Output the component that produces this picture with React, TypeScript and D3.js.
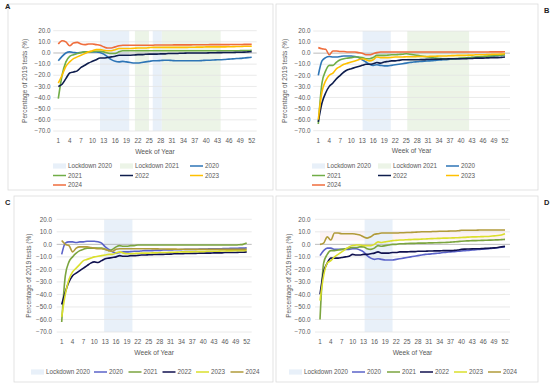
import React from "react";
import * as d3 from "d3";

// week-of-year axis and value axis
const xTicks = d3.range(1, 53, 3);
const yTicks = [20, 10, 0, -10, -20, -30, -40, -50, -60, -70];
const years = ["2020", "2021", "2022", "2023", "2024"];

// Panel A
const a2020 = [-7, -3, 0, 1, 0.5, 0, 0.5, 1, 1, 1, 1, 0.5, -1, -3.5, -6, -7.5, -8, -7.5, -8, -8.5, -9, -9, -8.5, -8, -7.5, -7, -7, -6.8, -6.5, -6.5, -6.8, -7, -7, -7, -7, -7, -7, -7, -6.8, -6.5, -6.5, -6.3, -6, -6, -5.8, -5.5, -5.3, -5, -4.8, -4.5, -4.2, -3.8];
const a2021 = [-41, -20, -8, -3, -1.5, -0.5, 0.5, 1, 1, 1.2, 1.5, 1.5, 1, 0, -0.5, -0.5, 1, 2, 2, 2, 2, 2, 2, 2, 2, 2, 2, 2, 2, 2, 2, 2, 2, 2, 2, 2, 2, 2, 2, 2, 2, 2, 2, 2, 2, 2, 2, 2, 2.1, 2.2, 2.3, 2.5];
const a2022 = [-30, -28, -23, -18, -17, -16, -13, -11, -9, -7.5, -6, -4.5, -4.5, -4, -3.5, -3, -2, -2, -2, -2, -1.8, -1.5, -1.5, -1.2, -1, -1, -1, -0.8, -0.8, -0.5, -0.5, -0.5, -0.3, -0.3, 0, 0, 0, 0, 0, 0, 0.2, 0.2, 0.3, 0.3, 0.5, 0.5, 0.5, 0.6, 0.7, 0.8, 1, 1.2];
const a2023 = [-27, -20, -12, -8, -5, -3.5, -2, -0.5, 1, 2, 3, 3, 2.5, 2, 2, 3, 4, 4, 4, 4, 4.2, 4.5, 4.5, 4.5, 4.8, 5, 5, 5, 5, 5, 5, 5, 5, 5, 5, 5.2, 5.2, 5.3, 5.3, 5.5, 5.5, 5.5, 5.5, 5.5, 5.5, 5.6, 5.7, 5.8, 5.8, 6, 6, 6.2];
const a2024 = [8, 11, 10, 6.5, 9, 9.5, 8, 7.5, 8, 8, 7.5, 7, 5.5, 4.5, 4.5, 5.5, 6.5, 7, 7, 7, 7, 7, 7, 7, 7, 7, 7.2, 7.2, 7.2, 7.2, 7.2, 7.3, 7.3, 7.3, 7.3, 7.3, 7.4, 7.4, 7.4, 7.4, 7.5, 7.5, 7.5, 7.5, 7.5, 7.5, 7.6, 7.6, 7.6, 7.7, 7.7, 7.8];

// Panel B
const b2020 = [-20, -7, -4, -3, -3.5, -3.5, -3, -2.5, -2.5, -2.5, -3, -4, -6, -8, -10, -11, -10.5, -11, -11.5, -11.5, -11, -10.5, -10, -9.5, -9, -8.5, -8, -7.8, -7.5, -7.2, -7, -6.8, -6.5, -6.2, -6, -5.8, -5.5, -5.3, -5, -4.8, -4.5, -4.3, -4, -3.8, -3.5, -3.3, -3, -2.8, -2.5, -2.2, -2, -1.5];
const b2021 = [-64, -27, -16, -11, -11, -8, -6, -5, -4.5, -4, -3.5, -3.5, -4, -5, -5, -4, -2, -2, -2, -1.8, -1.5, -1.5, -1.2, -1, -0.5, -1, -1.5, -2, -2.5, -3, -3.5, -4, -4.5, -4.8, -5, -5, -5, -5, -4.8, -4.5, -4.3, -4, -3.8, -3.5, -3.3, -3, -2.8, -2.5, -2.3, -2, -1.8, -1.5];
const b2022 = [-62, -45, -36, -30, -27, -23, -20, -17, -15, -14, -13, -12, -11, -10, -10, -9.5, -8.5, -9, -8, -7.5, -7, -7, -6.5, -6, -6, -6, -6, -6, -5.8, -5.8, -5.5, -5.5, -5.5, -5.5, -5.3, -5.3, -5, -5, -5, -5, -5, -4.8, -4.8, -4.5, -4.5, -4.5, -4.3, -4.2, -4, -4, -3.8, -3.5];
const b2023 = [-60, -35, -25, -20, -18, -14, -12, -10, -9, -8, -7, -6, -5, -6, -7, -6, -3.5, -4, -4, -4, -3.8, -3.5, -3.5, -3.5, -3.3, -3.2, -3.2, -3, -3, -3, -3, -2.8, -2.8, -2.5, -2.5, -2.5, -2.3, -2.2, -2, -2, -2, -1.8, -1.8, -1.5, -1.5, -1.5, -1.3, -1.2, -1, -1, -0.8, -0.5];
const b2024 = [5, 4, 3.5, -1.5, 2, 2, 1.5, 1.5, 1, 1, 1, 0.5, 0, -1.5, -1.5, -0.5, 0.5, 1, 1, 1, 1, 1, 1, 1, 1, 1, 1, 1, 1, 1, 1, 1, 1, 1, 1, 1, 1, 1, 1, 1, 1, 1, 1, 1, 1, 1, 1, 1.2, 1.2, 1.2, 1.2, 1.3];

// Panel C
const c2020 = [-8, 1, 2, 2, 1.5, 2, 2, 2.5, 2.5, 2.5, 2, 1, -2, -4, -6, -7, -6.5, -6, -6, -5.8, -5.5, -5.5, -5.3, -5, -5, -5, -4.8, -4.8, -4.5, -4.5, -4.5, -4.3, -4.3, -4.2, -4, -4, -4, -4, -3.8, -3.8, -3.8, -3.5, -3.5, -3.5, -3.5, -3.3, -3.3, -3.2, -3.2, -3, -3, -2.8];
const c2021 = [-62, -25, -14, -10, -7, -5, -4, -3, -3, -3, -3, -3, -4, -5, -4, -2, -1, -1.5, -1.5, -1, -1, -0.5, -0.5, -0.5, -0.5, -0.5, -0.5, -0.5, -0.5, -0.5, -0.5, -0.5, -0.5, -0.5, -0.5, -0.5, -0.5, -0.5, -0.5, -0.5, -0.5, -0.5, -0.5, -0.5, -0.5, -0.5, -0.5, -0.5, -0.5, -0.3, 0, 1];
const c2022 = [-48, -38, -30, -25, -23, -21, -19, -17, -15, -14, -14.5, -13, -11.5, -11, -10.5, -10, -9, -9.5, -9.5, -9, -9, -8.8, -8.5, -8.5, -8.3, -8.2, -8, -8, -8, -7.8, -7.8, -7.5, -7.5, -7.5, -7.3, -7.3, -7.2, -7.2, -7, -7, -7, -7, -6.8, -6.8, -6.8, -6.5, -6.5, -6.5, -6.5, -6.3, -6.3, -6];
const c2023 = [-58, -40, -28, -22, -19, -16, -13, -12, -11, -10, -9.5, -9, -8.5, -8, -8, -7, -6, -7, -7.5, -7.5, -7.3, -7.2, -7, -7, -7, -6.8, -6.8, -6.5, -6.5, -6.5, -6.3, -6.3, -6.2, -6, -6, -6, -6, -5.8, -5.8, -5.8, -5.5, -5.5, -5.5, -5.5, -5.3, -5.3, -5.2, -5.2, -5, -5, -5, -4.8];
const c2024 = [3, 0, -1, -6, -3, -2, -2, -2, -2.5, -3, -3.5, -3.5, -4, -5, -5.5, -4, -3.5, -3.5, -3.5, -3.5, -3.5, -3.5, -3.5, -3.5, -3.5, -3.6, -3.6, -3.7, -3.7, -3.8, -3.8, -3.8, -3.9, -3.9, -4, -4, -4, -4, -4, -4, -4, -4, -4, -4, -4, -4, -4, -4, -4, -4, -4, -4];

// Panel D
const d2020 = [-9, -5, -3, -3, -4, -4, -4, -4, -4, -3.5, -3.5, -4.5, -6, -9, -11, -12, -11.5, -12, -12.5, -12.5, -12.5, -12, -11.5, -11, -10.5, -10, -9.5, -9, -8.5, -8, -7.8, -7.5, -7.2, -7, -6.5, -6.3, -6, -5.8, -5.5, -5.3, -5, -4.8, -4.5, -4.3, -4, -3.8, -3.5, -3.3, -3, -2.7, -2.3, -2];
const d2021 = [-60, -15, -8, -5, -5, -4.5, -4, -3.5, -3, -2.5, -2.5, -2, -2, -3.5, -4, -3, -1, -1.5, -1, -0.5, 0, 0, 0.5, 0.5, 0.7, 0.8, 0.8, 1, 1, 1, 1.2, 1.2, 1.3, 1.4, 1.5, 1.6, 1.8, 2, 2.2, 2.5, 2.7, 2.8, 3, 3, 3.1, 3.2, 3.3, 3.4, 3.5, 3.6, 3.8, 4];
const d2022 = [-40, -22, -15, -11, -11, -11, -10.5, -10, -9.5, -8, -8.5, -8.5, -8, -8, -7.5, -7, -6, -7, -7, -7, -6.5, -6.5, -6, -6, -6, -5.8, -5.8, -5.5, -5.5, -5.5, -5.3, -5.3, -5.2, -5.2, -5, -5, -5, -4.8, -4.5, -4, -3.8, -3.7, -3.6, -3.5, -3.5, -3.3, -3.2, -3, -2.8, -2.5, -2, -1.5];
const d2023 = [-45, -25, -15, -13, -10, -8, -6, -4, -2, -1, -0.5, -0.5, -1, -1, -1, 0, 2, 1.5, 2, 2.5, 3, 3.2, 3.5, 3.5, 3.7, 3.8, 4, 4, 4.2, 4.3, 4.5, 4.6, 4.7, 4.8, 5, 5, 5.1, 5.2, 5.3, 5.5, 5.6, 5.8, 6, 6, 6.1, 6.2, 6.3, 6.5, 6.8, 7, 7.5, 8.5];
const d2024 = [0, 1, 6, 3.5, 9, 9, 8.5, 8.5, 8.5, 8.5, 8, 7.5, 6, 5, 6, 8, 8.5, 9, 9, 9, 9, 9, 9.2, 9.3, 9.4, 9.5, 9.6, 9.8, 10, 10, 10, 10.2, 10.3, 10.4, 10.5, 10.5, 10.6, 10.6, 10.8, 11.2, 11.3, 11.3, 11.3, 11.3, 11.4, 11.4, 11.4, 11.4, 11.5, 11.5, 11.5, 11.5];

// lockdown periods, in weeks
const aLock2020 = [[12, 19.7], [25.9, 28.3]];
const aLock2021 = [[21.2, 24.9], [28.3, 43.8]];
const bLock2020 = [[13.1, 20.8]];
const bLock2021 = [[25.3, 42.2]];
const cLock2020 = [[12.7, 20.5]];
const dLock2020 = [[13.3, 21]];
const dTint = [11, 3];

const coloursAB = ["#2E75B6", "#70AD47", "#0E1D4D", "#FFC000", "#EF6D3C"];
const coloursCD = ["#5B63C9", "#7BA53F", "#10114F", "#DADF2C", "#B19B3A"];
const blueBand = "#E8F0F9";
const greenBand = "#ECF4E7";
const grey = "#595959";
const font = "Liberation Sans, Arial, sans-serif";

const panels = [
  {
    id: "A", frame: [8, 4, 273, 190], letter: [5, 9],
    x1: 58.3, x52: 251.7, yTop: 30.7, yBot: 131, tickRight: 50.5, yTitleX: 25,
    series: [a2020, a2021, a2022, a2023, a2024], colours: coloursAB,
    lock2020: aLock2020, lock2021: aLock2021, tint: null,
    legendCols: [53, 120, 190], legendRows: [166, 175.5, 185],
  },
  {
    id: "B", frame: [276, 4, 538, 190], letter: [544, 13],
    x1: 318.3, x52: 505, yTop: 31, yBot: 130.7, tickRight: 310.5, yTitleX: 285,
    series: [b2020, b2021, b2022, b2023, b2024], colours: coloursAB,
    lock2020: bLock2020, lock2021: bLock2021, tint: null,
    legendCols: [312, 378, 446], legendRows: [166, 175.5, 185],
  },
  {
    id: "C", frame: [14, 196, 273, 382], letter: [5, 205],
    x1: 61.7, x52: 246.7, yTop: 219.3, yBot: 332, tickRight: 52, yTitleX: 28.3,
    series: [c2020, c2021, c2022, c2023, c2024], colours: coloursCD,
    lock2020: cLock2020, lock2021: null, tint: null,
    legendRowX: [31, 94, 128.5, 162.5, 196, 230.5], legendRowY: 372,
  },
  {
    id: "D", frame: [276, 196, 538, 382], letter: [544, 205],
    x1: 320, x52: 505, yTop: 219.3, yBot: 332, tickRight: 310.5, yTitleX: 288.3,
    series: [d2020, d2021, d2022, d2023, d2024], colours: coloursCD,
    lock2020: dLock2020, lock2021: null, tint: dTint,
    legendRowX: [289, 352, 387, 420, 454, 488], legendRowY: 372,
  },
];

const Panel = ({ p }) => {
  const x = d3.scaleLinear().domain([1, 52]).range([p.x1, p.x52]);
  const y = d3.scaleLinear().domain([20, -70]).range([p.yTop, p.yBot]);
  const line = d3
    .line<number>()
    .x((_, i) => x(i + 1))
    .y((d) => y(d))
    .curve(d3.curveMonotoneX);
  const gx0 = x(1) - 5;
  const gx1 = x(52) + 5;
  const fmt = d3.format(".1f");
  const [fx0, fy0, fx1, fy1] = p.frame;

  const bandRects = (bands, fill) =>
    (bands || []).map(([s, e], i) => (
      <rect key={fill + i} x={x(s)} y={p.yTop} width={x(e) - x(s)} height={p.yBot - p.yTop} fill={fill} />
    ));

  // legend entries
  const entries = [
    { kind: "band", label: "Lockdown 2020", colour: blueBand },
    ...(p.lock2021 ? [{ kind: "band", label: "Lockdown 2021", colour: greenBand }] : []),
    ...years.map((yr, i) => ({ kind: "line", label: yr, colour: p.colours[i] })),
  ];
  const placed = entries.map((e, i) => {
    if (p.legendCols) {
      return { ...e, lx: p.legendCols[i % 3], ly: p.legendRows[Math.floor(i / 3)] };
    }
    return { ...e, lx: p.legendRowX[i], ly: p.legendRowY };
  });

  return (
    <g>
      <rect x={fx0} y={fy0} width={fx1 - fx0} height={fy1 - fy0} fill="white" stroke="#D9D9D9" strokeWidth={0.75} />
      {p.tint && (
        <rect x={x(1)} y={y(p.tint[0])} width={x(52) - x(1)} height={y(p.tint[1]) - y(p.tint[0])} fill="#FDF3F5" />
      )}
      {bandRects(p.lock2020, blueBand)}
      {bandRects(p.lock2021, greenBand)}
      {yTicks.map((t) => (
        <g key={t}>
          <line
            x1={gx0}
            x2={gx1}
            y1={y(t)}
            y2={y(t)}
            stroke={t === 0 ? "#A6A6A6" : "#E3E3E3"}
            strokeWidth={0.75}
          />
          <text x={p.tickRight} y={y(t) + 2.2} textAnchor="end" fontSize={6.3} fill={grey} fontFamily={font}>
            {fmt(t)}
          </text>
        </g>
      ))}
      {xTicks.map((w) => (
        <text key={w} x={x(w)} y={p.yBot + 12} textAnchor="middle" fontSize={6.3} fill={grey} fontFamily={font}>
          {w}
        </text>
      ))}
      <text x={(p.x1 + p.x52) / 2} y={p.yBot + 22.5} textAnchor="middle" fontSize={6.7} fill={grey} fontFamily={font}>
        Week of Year
      </text>
      <text
        transform={`translate(${p.yTitleX}, ${(p.yTop + p.yBot) / 2}) rotate(-90)`}
        textAnchor="middle"
        dy="0.35em"
        fontSize={6.5}
        fill={grey}
        fontFamily={font}
      >
        Percentage of 2019 tests (%)
      </text>
      {p.series.map((s, i) => (
        <path key={i} d={line(s)} fill="none" stroke={p.colours[i]} strokeWidth={1.6} strokeLinejoin="round" />
      ))}
      {placed.map((e) => (
        <g key={e.label}>
          {e.kind === "band" ? (
            <rect x={e.lx} y={e.ly - 2.6} width={13} height={5.2} fill={e.colour} />
          ) : (
            <line x1={e.lx} x2={e.lx + 13} y1={e.ly} y2={e.ly} stroke={e.colour} strokeWidth={1.5} />
          )}
          <text x={e.lx + 15} y={e.ly + 2.2} fontSize={6.3} fill={grey} fontFamily={font}>
            {e.label}
          </text>
        </g>
      ))}
      <text x={p.letter[0]} y={p.letter[1]} fontSize={7.5} fontWeight="bold" fill="#222" fontFamily={font}>
        {p.id}
      </text>
    </g>
  );
};

export default function App() {
  return (
    <svg width={550} height={385} style={{ position: "absolute", left: 0, top: 0, background: "white" }}>
      <rect width={550} height={385} fill="white" />
      {panels.map((p) => (
        <Panel key={p.id} p={p} />
      ))}
    </svg>
  );
}
